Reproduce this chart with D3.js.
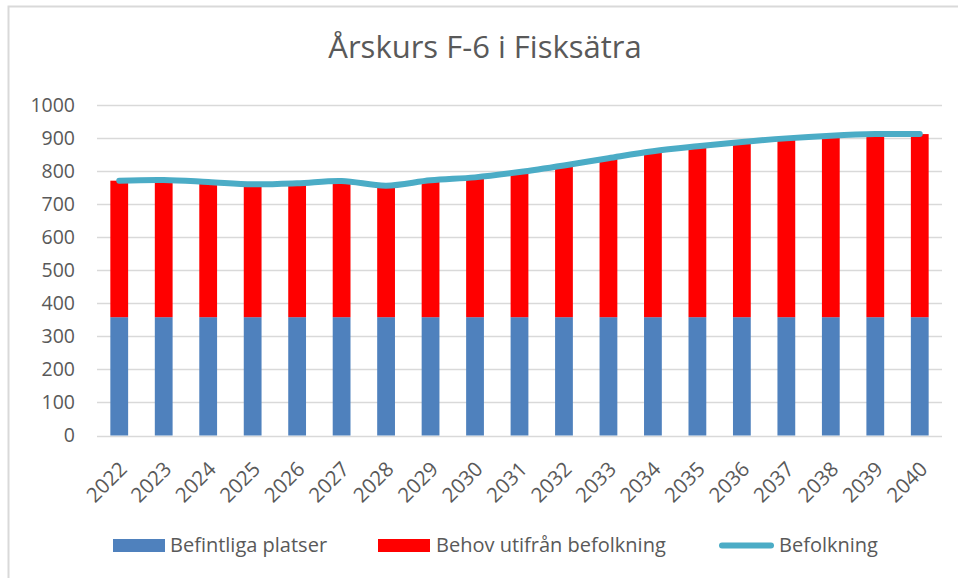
<!DOCTYPE html>
<html>
<head>
<meta charset="utf-8">
<script src="https://cdn.jsdelivr.net/npm/d3@7"></script>
<style>
  body { margin: 0; background: #fff; }
  text { font-family: "Open Sans", Lato, sans-serif; fill: #595959; }
</style>
</head>
<body>
<svg width="958" height="578"></svg>
<script>
var years = ["2022","2023","2024","2025","2026","2027","2028","2029","2030","2031",
             "2032","2033","2034","2035","2036","2037","2038","2039","2040"];
var befintliga = [358,358,358,358,358,358,358,358,358,358,358,358,358,358,358,358,358,358,358];
var befolkning = [771,773,767,760,763,770,756,772,781,797,817,839,860,875,888,899,907,912,912];
var yTicks = [0,100,200,300,400,500,600,700,800,900,1000];

var behov = befolkning.map(function(v, i) { return v - befintliga[i]; });

var margin = {top: 105, left: 97};

var svg = d3.select('svg');

// chart frame
svg.append('rect')
    .attr('x', 8.5).attr('y', 6.5)
    .attr('width', 1000).attr('height', 1000)
    .attr('fill', 'none')
    .attr('stroke', '#d9d9d9')
    .attr('stroke-width', 2);

svg.append('text')
    .attr('x', 485).attr('y', 58)
    .attr('text-anchor', 'middle')
    .style('font-size', '31px')
    .text('Årskurs F-6 i Fisksätra');

var g = svg.append('g').attr('transform', 'translate(' + margin.left + ',' + margin.top + ')');

var x = d3.scaleBand().domain(years).range([0, 845]).paddingInner(0.6).paddingOuter(0.3);
var y = d3.scaleLinear().domain([0, 1000]).range([330.5, 0]);

// grid
g.selectAll('.grid')
    .data(yTicks)
    .enter().append('line')
    .attr('class', 'grid')
    .attr('x1', 0).attr('x2', 845)
    .attr('y1', function(d) { return Math.round(y(d)) + 0.5; })
    .attr('y2', function(d) { return Math.round(y(d)) + 0.5; })
    .attr('stroke', '#d9d9d9')
    .attr('stroke-width', 1.5);

var yAxis = g.append('g')
    .call(d3.axisLeft(y).tickValues(yTicks).tickFormat(d3.format('d')).tickSize(0).tickPadding(22));
yAxis.select('.domain').remove();
yAxis.selectAll('text').style('font-size', '19.5px').attr('fill', '#595959');

// stacked bars
var stack = years.map(function(yr, i) {
  return {year: yr, b: befintliga[i], r: behov[i]};
});

g.selectAll('.blue')
    .data(stack)
    .enter().append('rect')
    .attr('class', 'blue')
    .attr('x', function(d) { return x(d.year); })
    .attr('width', x.bandwidth())
    .attr('y', function(d) { return y(d.b); })
    .attr('height', function(d) { return y(0) - y(d.b); })
    .attr('fill', '#4f81bd');

g.selectAll('.red')
    .data(stack)
    .enter().append('rect')
    .attr('class', 'red')
    .attr('x', function(d) { return x(d.year); })
    .attr('width', x.bandwidth())
    .attr('y', function(d) { return y(d.b + d.r); })
    .attr('height', function(d) { return y(d.b) - y(d.b + d.r); })
    .attr('fill', '#ff0000');

// x axis labels
var xAxis = g.append('g')
    .attr('transform', 'translate(0,' + y(0) + ')')
    .call(d3.axisBottom(x).tickSize(0));
xAxis.select('.domain').remove();
xAxis.selectAll('text')
    .style('font-size', '20.5px')
    .attr('fill', '#595959')
    .attr('text-anchor', 'end')
    .attr('x', 0).attr('y', 0)
    .attr('dy', 0)
    .attr('transform', 'translate(9,35) rotate(-45)');

// population line
var line = d3.line()
    .x(function(d, i) { return x(years[i]) + x.bandwidth() / 2; })
    .y(function(d) { return y(d); })
    .curve(d3.curveCatmullRom.alpha(0.5));

g.append('path')
    .datum(befolkning)
    .attr('d', line)
    .attr('fill', 'none')
    .attr('stroke', '#4bacc6')
    .attr('stroke-width', 6)
    .attr('stroke-linecap', 'round');

// legend
var legendItems = [
  {name: 'Befintliga platser', color: '#4f81bd', type: 'rect', x: 113, tx: 170},
  {name: 'Behov utifrån befolkning', color: '#ff0000', type: 'rect', x: 378, tx: 436},
  {name: 'Befolkning', color: '#4bacc6', type: 'line', x: 719, tx: 779}
];

var legend = svg.selectAll('.legend')
    .data(legendItems)
    .enter().append('g')
    .attr('class', 'legend');

legend.filter(function(d) { return d.type == 'rect'; })
    .append('rect')
    .attr('x', function(d) { return d.x; }).attr('y', 539)
    .attr('width', 52).attr('height', 13)
    .attr('fill', function(d) { return d.color; });

legend.filter(function(d) { return d.type == 'line'; })
    .append('line')
    .attr('x1', function(d) { return d.x + 3; }).attr('x2', function(d) { return d.x + 52; })
    .attr('y1', 545.5).attr('y2', 545.5)
    .attr('stroke', function(d) { return d.color; })
    .attr('stroke-width', 6)
    .attr('stroke-linecap', 'round');

legend.append('text')
    .attr('x', function(d) { return d.tx; })
    .attr('y', 552)
    .style('font-size', '20px')
    .text(function(d) { return d.name; });
</script>
</body>
</html>
